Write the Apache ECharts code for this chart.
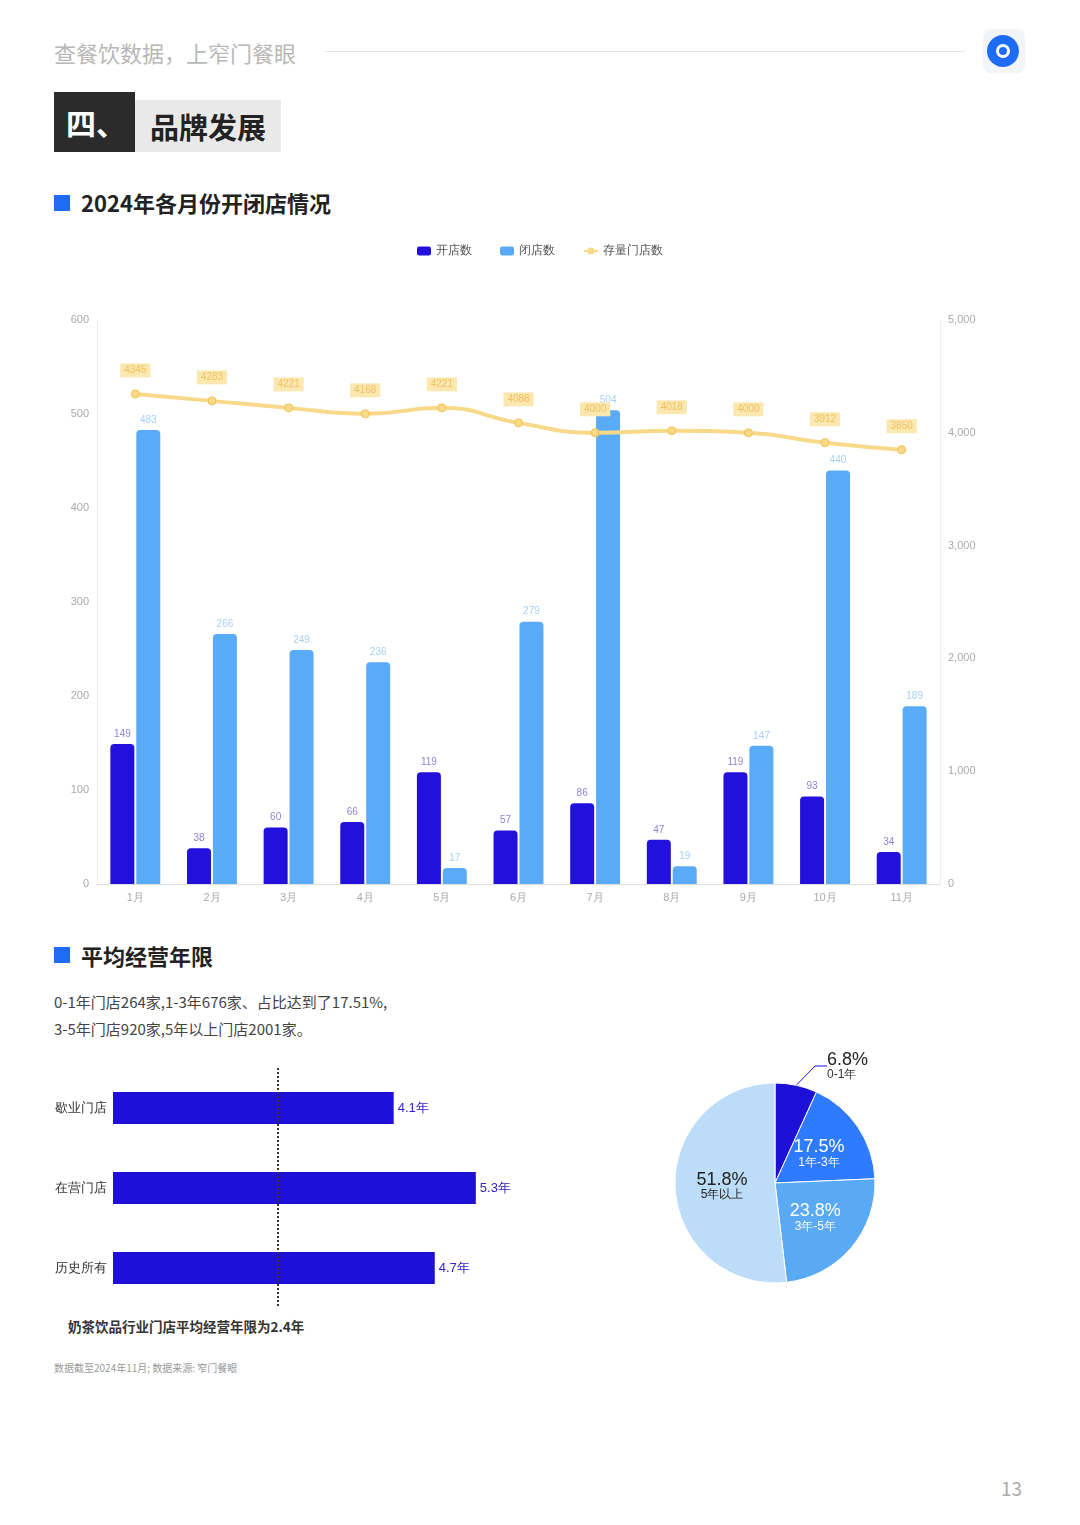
<!DOCTYPE html>
<html><head><meta charset="utf-8">
<script src="https://cdn.jsdelivr.net/npm/echarts@6/dist/echarts.min.js"></script>
<style>
body{margin:0;width:1080px;height:1525px;background:#fff;font-family:"Noto Sans CJK SC","Noto Sans",sans-serif;position:relative;overflow:hidden}
.a{position:absolute;white-space:nowrap}
</style></head><body>
<div class="a" style="left:54px;top:36px;font-size:22px;color:#b8b8b8">查餐饮数据，上窄门餐眼</div>
<div class="a" style="left:325px;top:51px;width:640px;height:1px;background:#e4e4e4"></div>
<div class="a" style="left:983px;top:29px;width:42px;height:44px;border-radius:8px;background:#f2f4f8"></div>
<div class="a" style="left:987px;top:35px;width:32px;height:32px;border-radius:50%;background:#1e6cf5"></div>
<div class="a" style="left:996px;top:44px;width:14px;height:14px;border-radius:50%;border:3px solid #fff;box-sizing:border-box"></div>
<div class="a" style="left:54px;top:92px;width:81px;height:60px;background:#2b2b2b;color:#fff;font-size:30px;font-weight:bold;line-height:60px;padding-left:12px;box-sizing:border-box">四、</div>
<div class="a" style="left:135px;top:100px;width:146px;height:52px;background:#e9e9e9;color:#222;font-size:29px;font-weight:bold;line-height:52px;text-align:center">品牌发展</div>
<div class="a" style="left:54px;top:195px;width:16px;height:16px;background:#1e6cf5"></div>
<div class="a" style="left:81px;top:186px;font-size:22px;font-weight:bold;color:#222">2024年各月份开闭店情况</div>
<div class="a" style="left:54px;top:947px;width:16px;height:16px;background:#1e6cf5"></div>
<div class="a" style="left:81px;top:939px;font-size:22px;font-weight:bold;color:#222">平均经营年限</div>
<div class="a" style="left:54px;top:988px;font-size:15px;color:#444;line-height:27px">0-1年门店264家,1-3年676家、占比达到了17.51%,<br>3-5年门店920家,5年以上门店2001家。</div>
<div class="a" style="left:68px;top:1316px;font-size:13.5px;font-weight:bold;color:#333">奶茶饮品行业门店平均经营年限为2.4年</div>
<div class="a" style="left:54px;top:1360px;font-size:10px;color:#999">数据截至2024年11月; 数据来源: 窄门餐眼</div>
<div class="a" style="left:1001px;top:1474px;font-size:19px;color:#aaa">13</div>
<div id="c1" class="a" style="left:0;top:230px;width:1080px;height:690px"></div>
<div id="c2" class="a" style="left:0;top:1040px;width:620px;height:280px"></div>
<div id="c3" class="a" style="left:620px;top:1040px;width:400px;height:270px"></div>
<script>
const months=['1月','2月','3月','4月','5月','6月','7月','8月','9月','10月','11月'];
const openCnt=[149,38,60,66,119,57,86,47,119,93,34];
const closeCnt=[483,266,249,236,17,279,504,19,147,440,189];
const stock=[4345,4283,4221,4168,4221,4088,4000,4018,4000,3912,3850];
const yearCats=['歇业门店','在营门店','历史所有'];
const yearVals=[4.1,5.3,4.7];
const industryAvg=2.4;
const pieNames=['0-1年','1年-3年','3年-5年','5年以上'];
const pieVals=[6.8,17.5,23.8,51.8];
const pieColors=['#1f10d8','#2f7bff','#5aa9f5','#bcdcf8'];

const c1=echarts.init(document.getElementById('c1'));
c1.setOption({
 legend:{top:10,left:'center',itemWidth:14,itemHeight:9,itemGap:28,textStyle:{fontSize:12,color:'#555'},
  data:[{name:'开店数',icon:'roundRect'},{name:'闭店数',icon:'roundRect'},'存量门店数']},
 grid:{left:97,right:140,top:90,bottom:36},
 xAxis:{type:'category',data:months,axisLine:{lineStyle:{color:'#ddd'}},axisTick:{show:false},axisLabel:{color:'#aaa',fontSize:11}},
 yAxis:[{type:'value',min:0,max:600,interval:100,axisLine:{show:true,lineStyle:{color:'#eee'}},splitLine:{show:false},axisLabel:{color:'#aaa',fontSize:11}},
  {type:'value',min:0,max:5000,interval:1000,axisLine:{show:true,lineStyle:{color:'#eee'}},splitLine:{show:false},axisLabel:{color:'#aaa',fontSize:11}}],
 series:[
  {name:'开店数',type:'bar',data:openCnt,barWidth:24,barGap:'8%',itemStyle:{color:'#2211dd',borderRadius:[4,4,0,0]},label:{show:true,position:'top',color:'#8c84d8',fontSize:10}},
  {name:'闭店数',type:'bar',data:closeCnt,barWidth:24,itemStyle:{color:'#5aabf7',borderRadius:[4,4,0,0]},label:{show:true,position:'top',color:'#a8d0f7',fontSize:10}},
  {name:'存量门店数',type:'line',yAxisIndex:1,data:stock,smooth:true,symbol:'circle',symbolSize:8,lineStyle:{color:'#f8d98a',width:4},itemStyle:{color:'#f8d98a',borderColor:'#f4c04a'},
   label:{show:true,position:'top',distance:12,color:'#f0c060',fontSize:10,backgroundColor:'#fbe7b0',padding:[2,4]}}
 ]
});

const c2=echarts.init(document.getElementById('c2'));
c2.setOption({
 grid:{left:113,right:62,top:28,bottom:12},
 xAxis:{type:'value',min:0,max:6.5,show:false},
 yAxis:{type:'category',data:yearCats,inverse:true,axisLine:{show:false},axisTick:{show:false},axisLabel:{color:'#333',fontSize:13,margin:6}},
 series:[{type:'bar',data:yearVals,barWidth:32,itemStyle:{color:'#1f10d8'},
  label:{show:true,position:'right',distance:4,color:'#3322cc',fontSize:13,formatter:p=>p.value+'年'},
  markLine:{symbol:'none',silent:true,label:{show:false},lineStyle:{color:'#333',type:'dotted',width:2},data:[{xAxis:industryAvg}]}}]
});

const c3=echarts.init(document.getElementById('c3'));
c3.setOption({
 series:[{type:'pie',center:[155,143],radius:[0,100],startAngle:90,clockwise:true,
  data:pieNames.map((n,i)=>({name:n,value:pieVals[i],itemStyle:{color:pieColors[i]},
   label: i===0?{show:true,position:'outside',color:'#222',formatter:'{a|{c}%}\n{b|{b}}',rich:{a:{fontSize:18,color:'#222'},b:{fontSize:12,color:'#333'}}}
    :{show:true,position:'inner',formatter:'{a|{c}%}\n{b|{b}}',rich:{a:{fontSize:18,color:i===3?'#222':'#fff'},b:{fontSize:12,color:i===3?'#222':'#fff'}}},
   labelLine:i===0?{show:true,length:12,length2:12,lineStyle:{color:'#1f10d8'}}:{show:false}})),
  itemStyle:{borderColor:'#fff',borderWidth:1},
  labelLayout:p=>p.dataIndex===0?{x:207,y:26,align:'left'}:null}]
});
</script></body></html>
